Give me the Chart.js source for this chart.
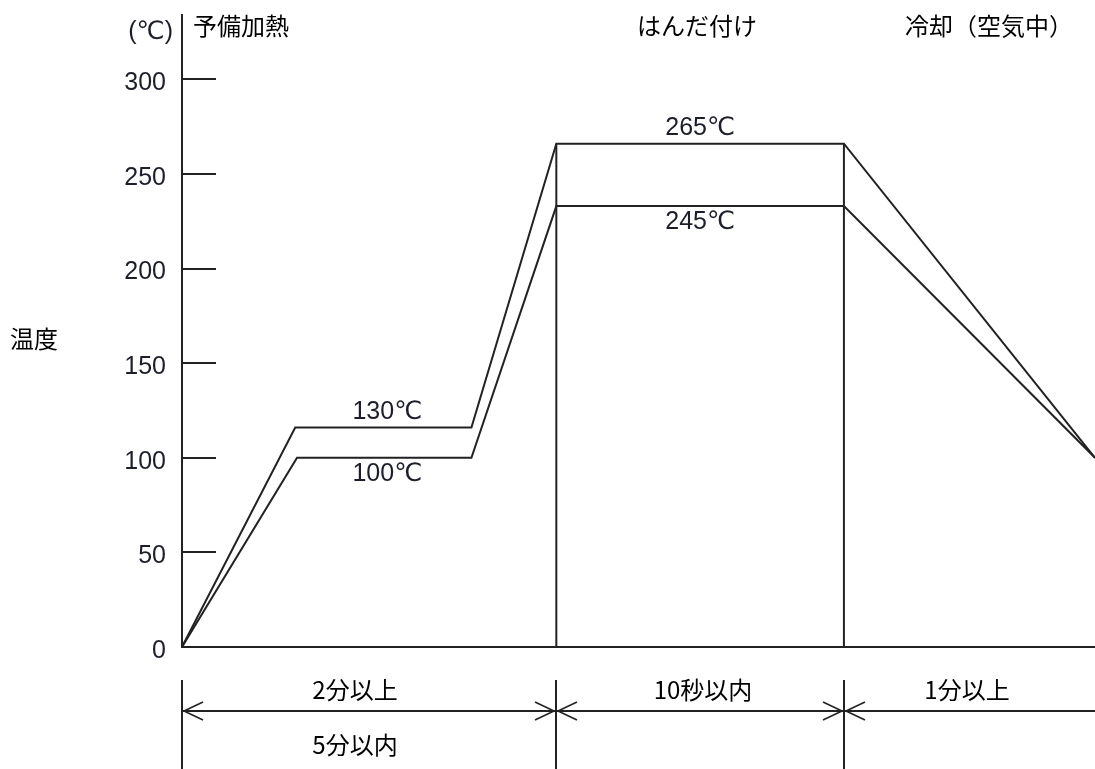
<!DOCTYPE html>
<html lang="ja">
<head>
<meta charset="utf-8">
<title>はんだ付け温度プロファイル</title>
<style>
  html, body { margin: 0; padding: 0; background: #fff; }
  #wrap { width: 1095px; height: 769px; }
</style>
</head>
<body>
<div id="wrap"><canvas id="profileChart"></canvas></div>
<script src="https://cdn.jsdelivr.net/npm/chart.js@4.4.1/dist/chart.umd.min.js"></script>
<script>
// x is a schematic time axis (0..100), y is temperature in ℃
var Y_TICKS = [0, 50, 100, 150, 200, 250, 300];
var UPPER_X = [0, 12.4, 31.7, 41.0, 72.5, 100];
var UPPER_Y = [0, 116, 116, 266, 266, 100];
var LOWER_X = [0, 12.6, 31.7, 41.0, 72.5, 100];
var LOWER_Y = [0, 100, 100, 233, 233, 100];
var PHASE_X = [0, 41.0, 72.5, 100];
var PHASE_NAMES = ['予備加熱', 'はんだ付け', '冷却（空気中）'];
var TEMP_LABELS = ['130℃', '100℃', '265℃', '245℃'];
var SPAN_TOP = ['2分以上', '10秒以内', '1分以上'];
var SPAN_BOTTOM = ['5分以内'];

var INK = '#222';
var NUM_FONT = '25px "Liberation Sans", Arial, "DejaVu Sans", sans-serif';
var JP_FONT = '24px "Noto Sans CJK JP", sans-serif';

function toPoints(xs, ys) {
  return xs.map(function(x, i){ return {x: x, y: ys[i]}; });
}

var overlay = {
  id: 'overlay',
  afterDraw: function(chart) {
    var ctx = chart.ctx;
    var xs = chart.scales.x, ys = chart.scales.y;
    var area = chart.chartArea;
    ctx.save();
    ctx.strokeStyle = INK;
    ctx.lineWidth = 2;

    // tick marks point into the plot
    Y_TICKS.forEach(function(v){
      if (v === 0) return;
      var py = Math.round(ys.getPixelForValue(v));
      ctx.beginPath();
      ctx.moveTo(area.left, py);
      ctx.lineTo(area.left + 34, py);
      ctx.stroke();
    });

    // unit and axis title
    ctx.fillStyle = '#1c1e2a';
    ctx.font = NUM_FONT;
    ctx.textBaseline = 'middle';
    ctx.textAlign = 'right';
    ctx.fillText('(℃)', area.left - 9, 32);

    ctx.fillStyle = '#000';
    ctx.font = JP_FONT;
    ctx.textAlign = 'left';
    ctx.fillText('温度', 10, 339);

    // phase headers
    var headerLeft = [193, 637, 905];
    PHASE_NAMES.forEach(function(t, i){
      ctx.fillText(t, headerLeft[i], 26);
    });

    // temperature labels on the plateaus
    ctx.fillStyle = '#1c1e2a';
    ctx.font = NUM_FONT;
    ctx.textAlign = 'center';
    var preMid = xs.getPixelForValue((UPPER_X[1] + UPPER_X[2]) / 2) + 4;
    var solMid = xs.getPixelForValue((UPPER_X[3] + UPPER_X[4]) / 2);
    ctx.fillText(TEMP_LABELS[0], preMid, ys.getPixelForValue(UPPER_Y[1]) - 15);
    ctx.fillText(TEMP_LABELS[1], preMid, ys.getPixelForValue(LOWER_Y[1]) + 16);
    ctx.fillText(TEMP_LABELS[2], solMid, ys.getPixelForValue(UPPER_Y[3]) - 16);
    ctx.fillText(TEMP_LABELS[3], solMid, ys.getPixelForValue(LOWER_Y[3]) + 16);

    // duration dimension lines under the axis
    var dimY = 711, extTop = 680, extBottom = chart.height;
    var px = PHASE_X.map(function(v){ return Math.round(xs.getPixelForValue(v)); });
    ctx.strokeStyle = INK;
    ctx.lineWidth = 2;
    ctx.beginPath();
    ctx.moveTo(px[0], dimY);
    ctx.lineTo(px[3], dimY);
    for (var i = 0; i < 3; i++) {
      ctx.moveTo(px[i], extTop);
      ctx.lineTo(px[i], extBottom);
    }
    ctx.stroke();

    ctx.lineWidth = 1.6;
    for (var j = 0; j < 3; j++) {
      ctx.beginPath();
      ctx.moveTo(px[j] + 21, dimY - 9);
      ctx.lineTo(px[j] + 2, dimY);
      ctx.lineTo(px[j] + 21, dimY + 9);
      ctx.stroke();
      if (j > 0) {
        ctx.beginPath();
        ctx.moveTo(px[j] - 21, dimY - 9);
        ctx.lineTo(px[j] - 2, dimY);
        ctx.lineTo(px[j] - 21, dimY + 9);
        ctx.stroke();
      }
    }

    ctx.fillStyle = '#000';
    ctx.font = JP_FONT;
    ctx.textAlign = 'center';
    var spanCenter = [355, 703, 967];
    SPAN_TOP.forEach(function(t, k){
      ctx.fillText(t, spanCenter[k], 690);
    });
    ctx.fillText(SPAN_BOTTOM[0], spanCenter[0], 745);

    ctx.restore();
  }
};

var lineStyle = {
  showLine: true,
  borderColor: INK,
  borderWidth: 2,
  pointRadius: 0,
  tension: 0,
  fill: false
};

var datasets = [
  Object.assign({label: 'upper', data: toPoints(UPPER_X, UPPER_Y)}, lineStyle),
  Object.assign({label: 'lower', data: toPoints(LOWER_X, LOWER_Y)}, lineStyle),
  Object.assign({label: 'start', data: [{x: PHASE_X[1], y: 0}, {x: PHASE_X[1], y: UPPER_Y[3]}]}, lineStyle),
  Object.assign({label: 'end', data: [{x: PHASE_X[2], y: 0}, {x: PHASE_X[2], y: UPPER_Y[4]}]}, lineStyle)
];

var ctx = document.getElementById('profileChart').getContext('2d');
var chart = new Chart(ctx, {
  type: 'scatter',
  data: { datasets: datasets },
  options: {
    responsive: true,
    maintainAspectRatio: false,
    animation: false,
    layout: { padding: { top: 15, left: 0, right: 0, bottom: 0 } },
    plugins: {
      legend: { display: false },
      tooltip: { enabled: false }
    },
    scales: {
      x: {
        type: 'linear',
        min: 0,
        max: 100,
        grid: { display: false },
        border: { display: true, color: INK, width: 2 },
        ticks: { display: false },
        afterFit: function(scale){
          scale.height = 122;
          scale.paddingLeft = 0;
          scale.paddingRight = 0;
        }
      },
      y: {
        type: 'linear',
        min: 0,
        max: 334,
        grid: { display: false, drawTicks: false },
        border: { display: true, color: INK, width: 2 },
        ticks: {
          color: '#1c1e2a',
          font: { family: '"Liberation Sans", Arial, sans-serif', size: 25 },
          padding: 16,
          labelOffset: 4
        },
        afterBuildTicks: function(scale){
          scale.ticks = Y_TICKS.map(function(v){ return {value: v}; });
        },
        afterFit: function(scale){
          scale.width = 182;
          scale.paddingTop = 0;
          scale.paddingBottom = 0;
        }
      }
    }
  },
  plugins: [overlay]
});
</script>
</body>
</html>
